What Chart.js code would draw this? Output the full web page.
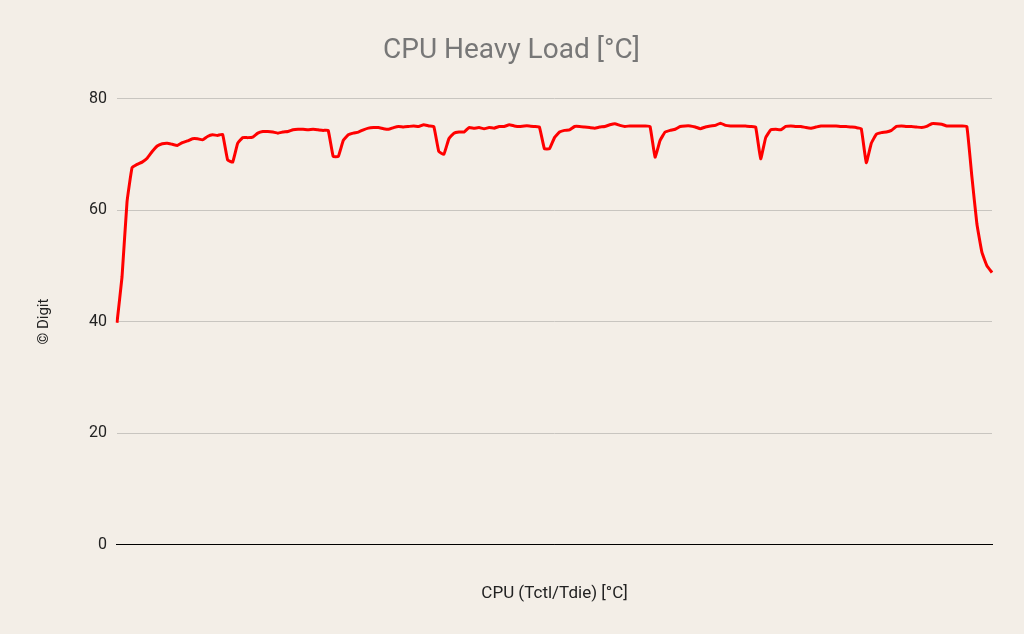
<!DOCTYPE html>
<html>
<head>
<meta charset="utf-8">
<script src="https://cdn.jsdelivr.net/npm/chart.js@4"></script>
<style>
    html, body { margin: 0; padding: 0; background: #f3eee7; }
    #wrap { width: 1024px; height: 634px; }
</style>
</head>
<body>
<div id="wrap"><canvas id="tempChart" width="1024" height="634"></canvas></div>
<script>
const chartTitle = 'CPU Heavy Load [°C]';
const seriesName = 'CPU (Tctl/Tdie) [°C]';
const yTicks = [0, 20, 40, 60, 80];

const cpuTemp = [
    39.8, 48.0, 61.5, 67.6, 68.2, 68.6, 69.3, 70.5, 71.5, 71.9,
    72.0, 71.8, 71.6, 72.1, 72.4, 72.8, 72.8, 72.6, 73.2, 73.5,
    73.4, 73.6, 69.0, 68.6, 72.0, 73.0, 73.0, 73.1, 73.8, 74.1,
    74.1, 74.0, 73.8, 74.0, 74.1, 74.4, 74.5, 74.5, 74.4, 74.5,
    74.4, 74.3, 74.3, 69.6, 69.6, 72.5, 73.5, 73.8, 74.0, 74.4,
    74.7, 74.8, 74.8, 74.6, 74.5, 74.8, 75.0, 74.9, 75.0, 75.1,
    75.0, 75.3, 75.1, 75.0, 70.5, 70.0, 72.8, 73.8, 74.0, 74.0,
    74.8, 74.7, 74.8, 74.6, 74.8, 74.7, 75.0, 75.0, 75.3, 75.1,
    75.0, 75.1, 75.1, 75.0, 74.9, 71.0, 71.0, 73.0, 74.0, 74.3,
    74.4, 75.0, 75.0, 74.9, 74.8, 74.7, 74.9, 75.0, 75.3, 75.5,
    75.2, 75.0, 75.1, 75.1, 75.1, 75.1, 75.0, 69.5, 72.5, 74.0,
    74.3, 74.5, 75.0, 75.1, 75.1, 74.9, 74.6, 74.9, 75.1, 75.2,
    75.6, 75.2, 75.1, 75.1, 75.1, 75.1, 75.0, 74.9, 69.2, 73.0,
    74.4, 74.5, 74.4, 75.0, 75.1, 75.0, 75.0, 74.8, 74.7, 74.9,
    75.1, 75.1, 75.1, 75.1, 75.0, 75.0, 74.9, 74.8, 74.6, 68.5,
    72.0, 73.6, 73.9, 74.0, 74.3, 75.0, 75.1, 75.0, 75.0, 74.9,
    74.8, 75.0, 75.5, 75.5, 75.4, 75.1, 75.1, 75.1, 75.1, 75.0,
    66.0, 57.5, 52.4, 50.0, 48.8
];

// the x axis carries no labels in the original
const timeLabels = cpuTemp.map(() => '');

const bgPlugin = {
    id: 'bg',
    beforeDraw(chart) {
        const ctx = chart.ctx;
        ctx.save();
        ctx.fillStyle = '#f3eee7';
        ctx.fillRect(0, 0, chart.width, chart.height);
        ctx.restore();
    }
};

new Chart(document.getElementById('tempChart'), {
    type: 'line',
    data: {
        labels: timeLabels,
        datasets: [{
            label: seriesName,
            data: cpuTemp,
            borderColor: '#ff0000',
            borderWidth: 3,
            pointRadius: 0,
            tension: 0.1,
            fill: false
        }]
    },
    options: {
        responsive: false,
        animation: false,
        layout: { padding: { left: 31, right: 32, top: 14, bottom: 26 } },
        plugins: {
            legend: { display: false },
            tooltip: { enabled: false },
            title: {
                display: true,
                text: chartTitle,
                color: '#777777',
                font: { family: 'Roboto', size: 28, weight: 'normal' },
                padding: { top: 20, bottom: 31 }
            }
        },
        scales: {
            x: {
                offset: false,
                grid: { display: false },
                border: { color: '#000000', width: 1 },
                ticks: { display: false },
                title: {
                    display: true,
                    text: seriesName,
                    color: '#222222',
                    font: { family: 'Roboto', size: 17 },
                    padding: { top: 31 }
                }
            },
            y: {
                min: 0,
                max: 80,
                afterBuildTicks(axis) {
                    axis.ticks = yTicks.map(v => ({ value: v }));
                },
                grid: {
                    color: ctx => ctx.tick && ctx.tick.value === 0 ? '#000000' : '#c8c5c0',
                    drawTicks: true,
                    tickLength: 4,
                    tickColor: 'rgba(0,0,0,0)'
                },
                border: { display: false },
                ticks: {
                    color: '#222222',
                    font: { family: 'Roboto', size: 16 },
                    padding: 6
                },
                title: {
                    display: true,
                    text: '© Digit',
                    color: '#222222',
                    font: { family: 'Roboto', size: 15 },
                    padding: { bottom: 30 }
                }
            }
        }
    },
    plugins: [bgPlugin]
});
</script>
</body>
</html>
